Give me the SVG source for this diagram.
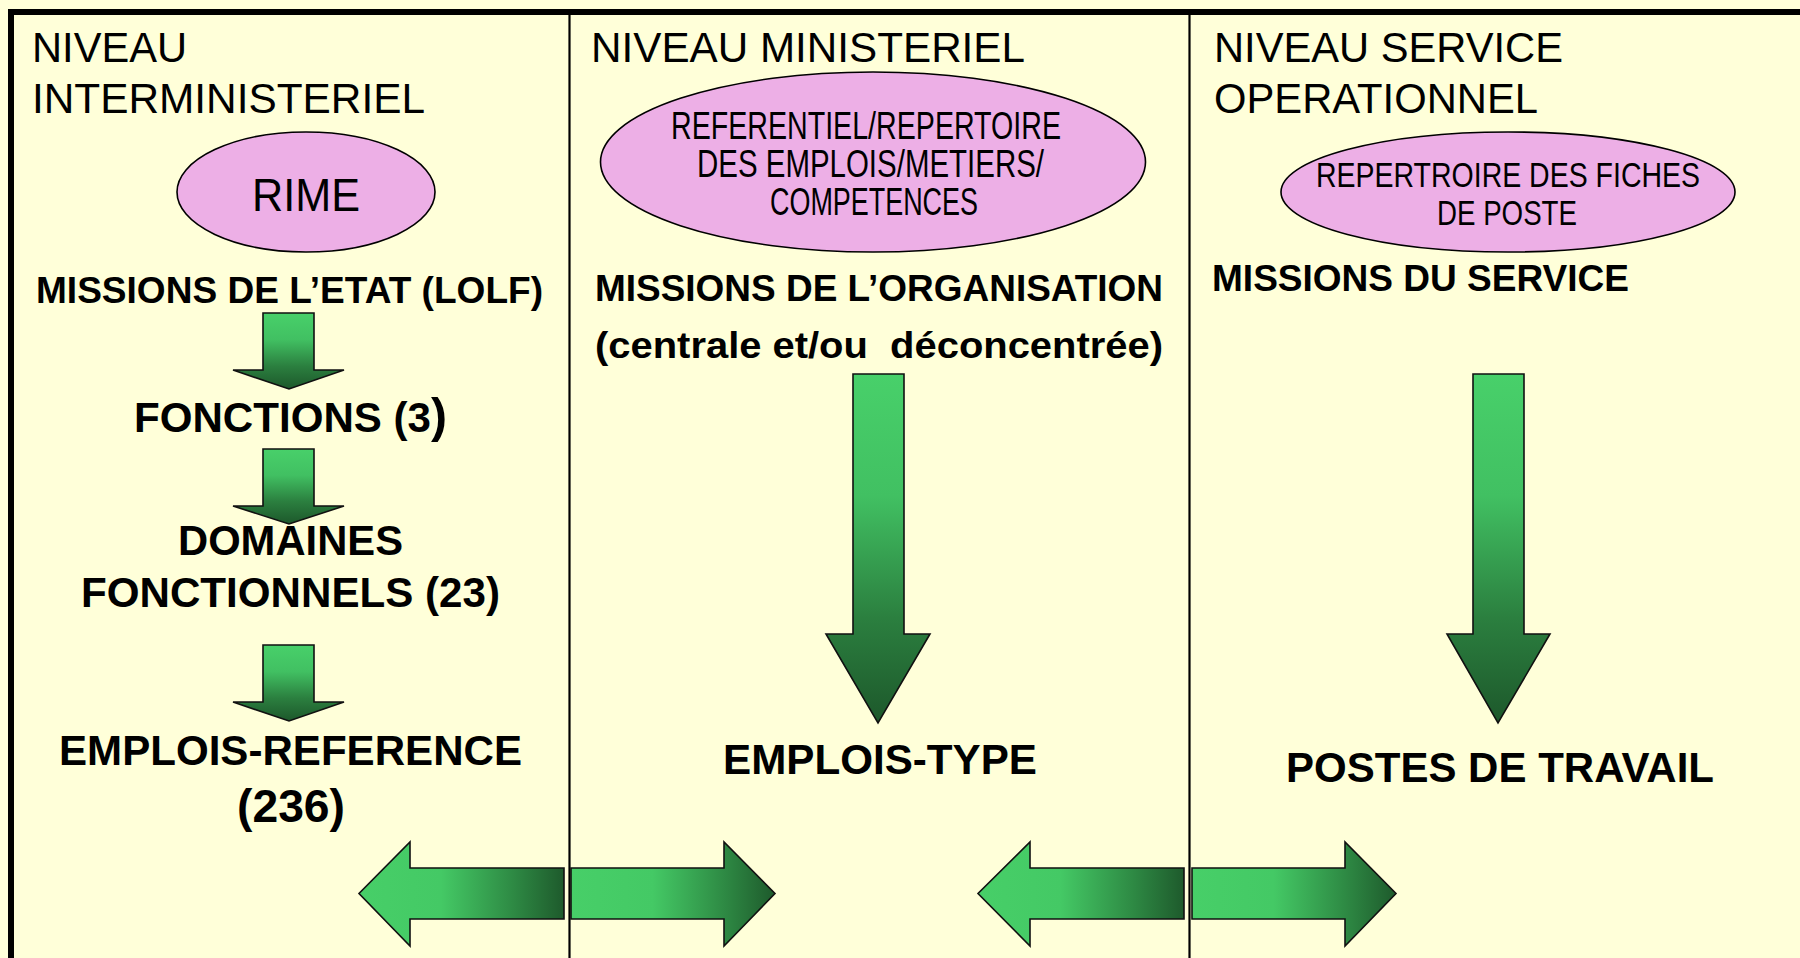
<svg xmlns="http://www.w3.org/2000/svg" width="1800" height="958" viewBox="0 0 1800 958">
  <defs>
    <linearGradient id="gDown" x1="0" y1="0" x2="0" y2="1">
      <stop offset="0" stop-color="#48d06a"/>
      <stop offset="0.35" stop-color="#41c062"/>
      <stop offset="0.7" stop-color="#2b7f3f"/>
      <stop offset="1" stop-color="#1d582b"/>
    </linearGradient>
    <linearGradient id="gSide" x1="0" y1="0" x2="1" y2="0">
      <stop offset="0" stop-color="#47cf68"/>
      <stop offset="0.4" stop-color="#44c965"/>
      <stop offset="0.75" stop-color="#2e8a44"/>
      <stop offset="1" stop-color="#1e5a2c"/>
    </linearGradient>
    <style>
      .lane { fill: none; stroke: #000; }
      .oval { fill: #edafe6; stroke: #000; stroke-width: 1.6; }
      .head { font-family: "Liberation Sans", Arial, sans-serif; font-size: 42px; fill: #000; }
      .oval-t { font-family: "Liberation Sans", Arial, sans-serif; fill: #000; }
      .bold { font-family: "Liberation Sans", Arial, sans-serif; font-weight: bold; fill: #000; }
      .down { fill: url(#gDown); stroke: #111; stroke-width: 1.6; stroke-linejoin: miter; }
      .side { fill: url(#gSide); stroke: #111; stroke-width: 1.6; stroke-linejoin: miter; }
    </style>
  </defs>

  <!-- page background and column frame -->
  <rect x="0" y="0" width="1800" height="958" fill="#ffffd9"/>
  <g id="frame">
    <polyline class="lane" points="11,958 11,12 1800,12" stroke-width="6" stroke-linejoin="miter"/>
    <line class="lane" x1="569.5" y1="14" x2="569.5" y2="958" stroke-width="2.2"/>
    <line class="lane" x1="1189.5" y1="14" x2="1189.5" y2="958" stroke-width="2.2"/>
  </g>

  <!-- column headings -->
  <g id="col-interministeriel">
    <text class="head" x="32" y="62" textLength="155" lengthAdjust="spacingAndGlyphs">NIVEAU</text>
    <text class="head" x="32" y="113" textLength="393" lengthAdjust="spacingAndGlyphs">INTERMINISTERIEL</text>
  </g>
  <g id="col-ministeriel">
    <text class="head" x="591" y="62" textLength="434" lengthAdjust="spacingAndGlyphs">NIVEAU MINISTERIEL</text>
  </g>
  <g id="col-service">
    <text class="head" x="1214" y="62" textLength="349" lengthAdjust="spacingAndGlyphs">NIVEAU SERVICE</text>
    <text class="head" x="1214" y="113" textLength="324" lengthAdjust="spacingAndGlyphs">OPERATIONNEL</text>
  </g>

  <!-- repositories -->
  <g id="rime">
    <ellipse class="oval" cx="306" cy="192" rx="129" ry="60"/>
    <text class="oval-t" x="252" y="211" font-size="47" textLength="108" lengthAdjust="spacingAndGlyphs">RIME</text>
  </g>
  <g id="referentiel">
    <ellipse class="oval" cx="873" cy="162" rx="272.5" ry="90"/>
    <text class="oval-t" x="671" y="139" font-size="38" textLength="390" lengthAdjust="spacingAndGlyphs">REFERENTIEL/REPERTOIRE</text>
    <text class="oval-t" x="697" y="177" font-size="38" textLength="347" lengthAdjust="spacingAndGlyphs">DES EMPLOIS/METIERS/</text>
    <text class="oval-t" x="770" y="215" font-size="38" textLength="208" lengthAdjust="spacingAndGlyphs">COMPETENCES</text>
  </g>
  <g id="fiches">
    <ellipse class="oval" cx="1508" cy="192" rx="227" ry="60"/>
    <text class="oval-t" x="1316" y="187" font-size="35" textLength="384" lengthAdjust="spacingAndGlyphs">REPERTROIRE DES FICHES</text>
    <text class="oval-t" x="1437" y="225" font-size="35" textLength="140" lengthAdjust="spacingAndGlyphs">DE POSTE</text>
  </g>

  <!-- interministerial chain -->
  <g id="missions-etat">
    <text class="bold" x="36" y="303" font-size="37" textLength="507" lengthAdjust="spacingAndGlyphs">MISSIONS DE L’ETAT (LOLF)</text>
  </g>
  <g id="fonctions">
    <text class="bold" x="134" y="432" font-size="42" textLength="313" lengthAdjust="spacingAndGlyphs">FONCTIONS (3<tspan font-size="48">)</tspan></text>
  </g>
  <g id="domaines">
    <text class="bold" x="178" y="555" font-size="42" textLength="225" lengthAdjust="spacingAndGlyphs">DOMAINES</text>
    <text class="bold" x="81" y="607" font-size="42" textLength="419" lengthAdjust="spacingAndGlyphs">FONCTIONNELS (23)</text>
  </g>
  <g id="emplois-reference">
    <text class="bold" x="59" y="765" font-size="42" textLength="463" lengthAdjust="spacingAndGlyphs">EMPLOIS-REFERENCE</text>
    <text class="bold" x="237" y="822" font-size="46" textLength="108" lengthAdjust="spacingAndGlyphs">(236)</text>
  </g>

  <!-- ministerial chain -->
  <g id="missions-organisation">
    <text class="bold" x="595" y="301" font-size="37" textLength="568" lengthAdjust="spacingAndGlyphs">MISSIONS DE L’ORGANISATION</text>
    <text class="bold" x="595" y="358" font-size="37" textLength="568" lengthAdjust="spacingAndGlyphs" xml:space="preserve">(centrale et/ou  déconcentrée)</text>
  </g>
  <g id="emplois-type">
    <text class="bold" x="723" y="774" font-size="42" textLength="314" lengthAdjust="spacingAndGlyphs">EMPLOIS-TYPE</text>
  </g>

  <!-- service chain -->
  <g id="missions-service">
    <text class="bold" x="1212" y="291" font-size="37" textLength="417" lengthAdjust="spacingAndGlyphs">MISSIONS DU SERVICE</text>
  </g>
  <g id="postes">
    <text class="bold" x="1286" y="782" font-size="42" textLength="428" lengthAdjust="spacingAndGlyphs">POSTES DE TRAVAIL</text>
  </g>

  <!-- block arrows -->
  <g id="connectors">
    <path class="down" d="M263,313 H314 V370 H344 L289,389 L233,370 H263 Z"/>
    <path class="down" d="M263,449 H314 V506 H344 L289,524 L233,506 H263 Z"/>
    <path class="down" d="M263,645 H314 V702 H344 L289,721 L233,702 H263 Z"/>
    <path class="down" d="M853,374 H904 V634 H930 L878,723 L826,634 H853 Z"/>
    <path class="down" d="M1473,374 H1524 V634 H1550 L1498,723 L1447,634 H1473 Z"/>
    <path class="side" d="M564,868 V919 H410 V946 L359,893.5 L410,842 V868 Z"/>
    <path class="side" d="M571,868 H724 V842 L775,893.5 L724,946 V919 H571 Z"/>
    <path class="side" d="M1184,868 V919 H1030 V946 L978,893.5 L1030,842 V868 Z"/>
    <path class="side" d="M1192,868 H1345 V842 L1396,893.5 L1345,946 V919 H1192 Z"/>
  </g>
</svg>
